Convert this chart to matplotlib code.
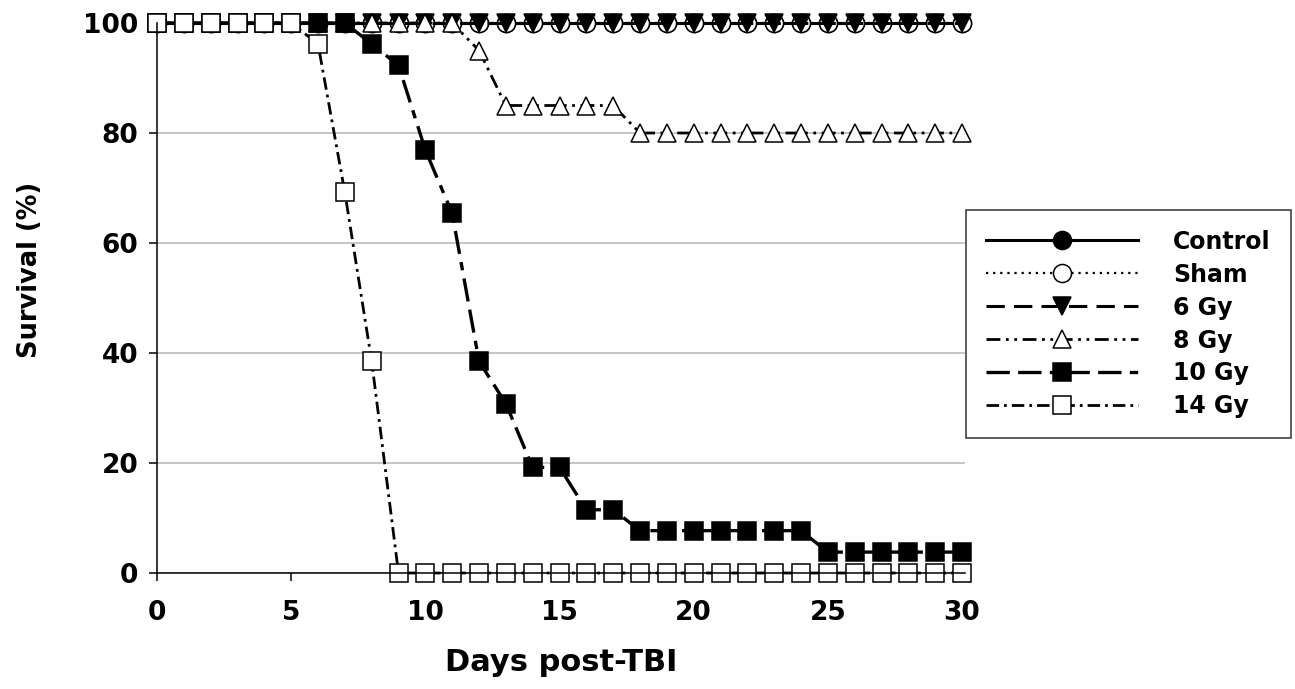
import matplotlib.pyplot as plt

plt.rcParams['font.family'] = ['DejaVu Sans']
plt.rcParams['font.weight'] = 'bold'

# dias e sobrevivência (%) por grupo
dias = list(range(0, 31))

controle = [100] * 31
sham = [100] * 31
gy6 = [100] * 31
gy8 = [100] * 12 + [95] + [85] * 5 + [80] * 13
gy10 = [100] * 8 + [96.2, 92.3, 76.9, 65.4, 38.5, 30.8, 19.2, 19.2, 11.5, 11.5] + [7.7] * 7 + [3.8] * 6
gy14 = [100] * 6 + [96.2, 69.2, 38.5] + [0] * 22

rotulos = ['Control', 'Sham', '6 Gy', '8 Gy', '10 Gy', '14 Gy']

fig = plt.figure(figsize=(12.95, 6.89), dpi=100)
ax = fig.add_axes([157 / 1295, 1 - 573 / 689, (964.7 - 157) / 1295, 550 / 689])

ms = 13
mew = 1.1

ax.plot(dias, controle, color='black', lw=2.2, ls='-', marker='o', ms=ms,
        mfc='black', mec='black', mew=mew, clip_on=False, label=rotulos[0])
ax.plot(dias, sham, color='black', lw=1.6, ls=(0, (1, 2.2)), marker='o', ms=ms,
        mfc='white', mec='black', mew=mew, clip_on=False, label=rotulos[1])
ax.plot(dias, gy6, color='black', lw=2.2, ls=(0, (6, 3)), marker='v', ms=ms,
        mfc='black', mec='black', mew=mew, clip_on=False, label=rotulos[2])
ax.plot(dias, gy8, color='black', lw=2.0, ls=(0, (5, 2, 1, 2, 1, 2)), marker='^', ms=ms,
        mfc='white', mec='black', mew=mew, clip_on=False, label=rotulos[3])
ax.plot(dias, gy10, color='black', lw=2.4, ls=(0, (7, 2.5, 7, 2.5, 2.5, 2.5)), marker='s', ms=12.5,
        mfc='black', mec='black', mew=mew, clip_on=False, label=rotulos[4])
ax.plot(dias, gy14, color='black', lw=2.0, ls=(0, (4.5, 1.8, 1, 1.8)), marker='s', ms=12.5,
        mfc='white', mec='black', mew=mew, clip_on=False, label=rotulos[5])

ax.set_xlim(0, 30.1)
ax.set_ylim(0, 100)
ax.set_xticks([0, 5, 10, 15, 20, 25, 30])
ax.set_yticks([0, 20, 40, 60, 80, 100])
ax.yaxis.grid(True, color='#c0c0c0', lw=1.3)
ax.set_axisbelow(True)

for s in ['top', 'right']:
    ax.spines[s].set_visible(False)
for s in ['left', 'bottom']:
    ax.spines[s].set_linewidth(1.1)

ax.tick_params(axis='both', direction='out', length=5.5, width=1.1, labelsize=19)
ax.tick_params(axis='x', pad=14)
ax.tick_params(axis='y', pad=8)

ax.set_xlabel('Days post-TBI', fontsize=22, fontweight='bold', labelpad=16)
ax.set_ylabel('Survival (%)', fontsize=18.5, fontweight='bold')
ax.yaxis.set_label_coords(-0.141, 0.551)

leg = fig.legend(loc='upper left', bbox_to_anchor=(966 / 1295, 1 - 210 / 689),
                 frameon=True, fancybox=False, fontsize=17, handlelength=6.45,
                 handletextpad=1.5, labelspacing=0.38, borderpad=0.83,
                 borderaxespad=0, numpoints=1)
leg.get_frame().set_edgecolor('black')
leg.get_frame().set_linewidth(1.1)

fig.savefig('out.png', dpi=100)
